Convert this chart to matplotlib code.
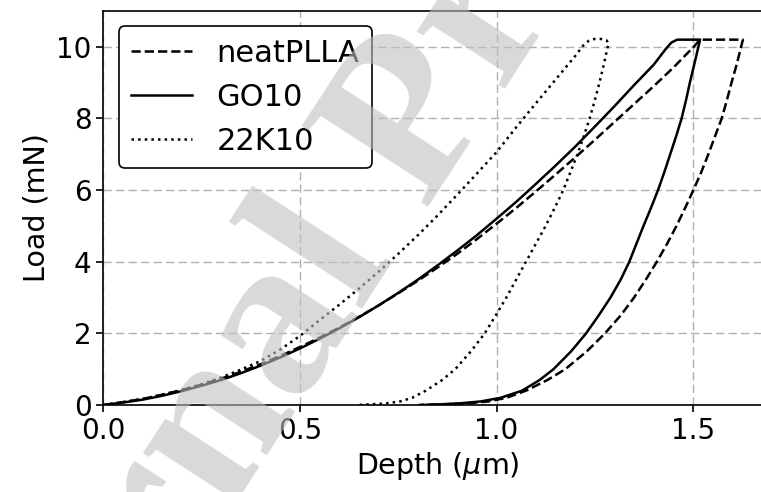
import matplotlib
matplotlib.use("Agg")
import matplotlib.pyplot as plt

# ---- data ----
# neatPLLA: loading, hold, unloading
neat_load_x = [0.0, 0.05, 0.1, 0.15, 0.2, 0.25, 0.3, 0.35, 0.4, 0.45, 0.5, 0.55, 0.6, 0.65, 0.7, 0.75,
               0.8, 0.85, 0.9, 0.95, 1.0, 1.05, 1.1, 1.15, 1.2, 1.25, 1.3, 1.35, 1.4, 1.45, 1.5, 1.518]
neat_load_y = [0.0, 0.08, 0.17, 0.29, 0.42, 0.57, 0.74, 0.93, 1.14, 1.37, 1.62, 1.88, 2.16, 2.46, 2.78,
               3.12, 3.47, 3.84, 4.22, 4.63, 5.06, 5.5, 5.96, 6.43, 6.91, 7.4, 7.9, 8.4, 8.9, 9.42, 9.98, 10.2]
neat_unload_y = [10.2, 9.5, 9.0, 8.5, 8.0, 7.5, 7.0, 6.5, 6.0, 5.5, 5.0, 4.5, 4.0, 3.5, 3.0, 2.5, 2.0,
                 1.5, 1.0, 0.7, 0.4, 0.2, 0.1, 0.05, 0.02, 0.0]
neat_unload_x = [1.627, 1.611, 1.598, 1.586, 1.573, 1.556, 1.539, 1.521, 1.501, 1.48, 1.458, 1.434, 1.408,
                 1.38, 1.35, 1.316, 1.276, 1.23, 1.175, 1.13, 1.075, 1.025, 0.98, 0.93, 0.87, 0.805]

# GO10
go_load_x = [0.0, 0.05, 0.1, 0.15, 0.2, 0.25, 0.3, 0.35, 0.4, 0.45, 0.5, 0.55, 0.6, 0.65, 0.7, 0.75,
             0.8, 0.85, 0.9, 0.95, 1.0, 1.05, 1.1, 1.15, 1.2, 1.25, 1.3, 1.35, 1.4, 1.43, 1.445, 1.46, 1.518]
go_load_y = [0.0, 0.07, 0.15, 0.26, 0.39, 0.54, 0.7, 0.89, 1.1, 1.33, 1.58, 1.85, 2.14, 2.45, 2.78, 3.13,
             3.5, 3.9, 4.31, 4.74, 5.2, 5.67, 6.17, 6.68, 7.21, 7.77, 8.34, 8.93, 9.5, 9.93, 10.12, 10.2, 10.2]
go_unload_y = [10.2, 9.5, 9.0, 8.5, 8.0, 7.5, 7.0, 6.5, 6.0, 5.5, 5.0, 4.5, 4.0, 3.5, 3.0, 2.5, 2.0,
               1.5, 1.0, 0.7, 0.4, 0.2, 0.1, 0.05, 0.02, 0.0]
go_unload_x = [1.518, 1.503, 1.492, 1.482, 1.471, 1.457, 1.442, 1.427, 1.411, 1.393, 1.374, 1.356, 1.338,
               1.316, 1.29, 1.26, 1.228, 1.19, 1.145, 1.11, 1.065, 1.01, 0.96, 0.91, 0.86, 0.805]

# 22K10
k22_load_x = [0.0, 0.05, 0.1, 0.15, 0.2, 0.25, 0.3, 0.35, 0.4, 0.45, 0.5, 0.55, 0.6, 0.65, 0.7, 0.75,
              0.8, 0.85, 0.9, 0.95, 1.0, 1.05, 1.1, 1.15, 1.2, 1.22, 1.235, 1.25, 1.265, 1.28, 1.285]
k22_load_y = [0.0, 0.08, 0.17, 0.29, 0.42, 0.58, 0.77, 0.99, 1.23, 1.55, 1.93, 2.37, 2.8, 3.25, 3.72,
              4.22, 4.74, 5.29, 5.87, 6.46, 7.06, 7.75, 8.42, 9.08, 9.74, 10.03, 10.17, 10.22, 10.22, 10.18, 10.1]
k22_unload_y = [9.5, 9.0, 8.5, 8.0, 7.5, 7.0, 6.5, 6.0, 5.5, 5.0, 4.5, 4.0, 3.5, 3.0, 2.5, 2.0, 1.5,
                1.0, 0.7, 0.4, 0.2, 0.1, 0.04, 0.0]
k22_unload_x = [1.273, 1.262, 1.25, 1.237, 1.222, 1.206, 1.188, 1.17, 1.148, 1.125, 1.1, 1.075, 1.05,
                1.025, 0.998, 0.97, 0.935, 0.895, 0.862, 0.82, 0.785, 0.755, 0.715, 0.645]

xticks = [0.0, 0.5, 1.0, 1.5]
yticks = [0, 2, 4, 6, 8, 10]

W, H = 761, 492
fig = plt.figure(figsize=(W / 100, H / 100), dpi=100)
ax = fig.add_axes([103.5 / W, 87 / H, 393 * 1.7 / W, 394 / H])

ax.plot(neat_load_x + neat_unload_x, neat_load_y + neat_unload_y, color="black", lw=1.8,
        linestyle="--", label="neatPLLA")
ax.plot(go_load_x + go_unload_x, go_load_y + go_unload_y, color="black", lw=1.8,
        linestyle="-", label="GO10")
ax.plot(k22_load_x + k22_unload_x, k22_load_y + k22_unload_y, color="black", lw=1.8,
        linestyle=":", label="22K10")

ax.set_xlim(0, 1.7)
ax.set_ylim(0, 11)
ax.set_xticks(xticks)
ax.set_xticklabels([f"{t:.1f}" for t in xticks])
ax.set_yticks(yticks)
ax.tick_params(labelsize=20, width=1.2, length=5)
ax.grid(True, linestyle=(0, (6, 3)), color="#b0b0b0", lw=1.0)
for s in ax.spines.values():
    s.set_linewidth(1.2)

ax.set_xlabel(r"Depth ($\mu$m)", fontsize=20.5)
ax.set_ylabel("Load (mN)", fontsize=20.5)

leg = ax.legend(loc="upper left", fontsize=22, handlelength=2.0, framealpha=1,
                edgecolor="black", fancybox=True)
leg.get_frame().set_linewidth(1.2)

fig.text(413 / W, 1 - 128 / H, "Journal Pre-proof", fontsize=165, family="Liberation Serif",
         weight="bold", color="#c0c0c0", alpha=0.6, rotation=57, rotation_mode="anchor",
         ha="center", va="center", zorder=10)

fig.savefig("out.png", dpi=100)
